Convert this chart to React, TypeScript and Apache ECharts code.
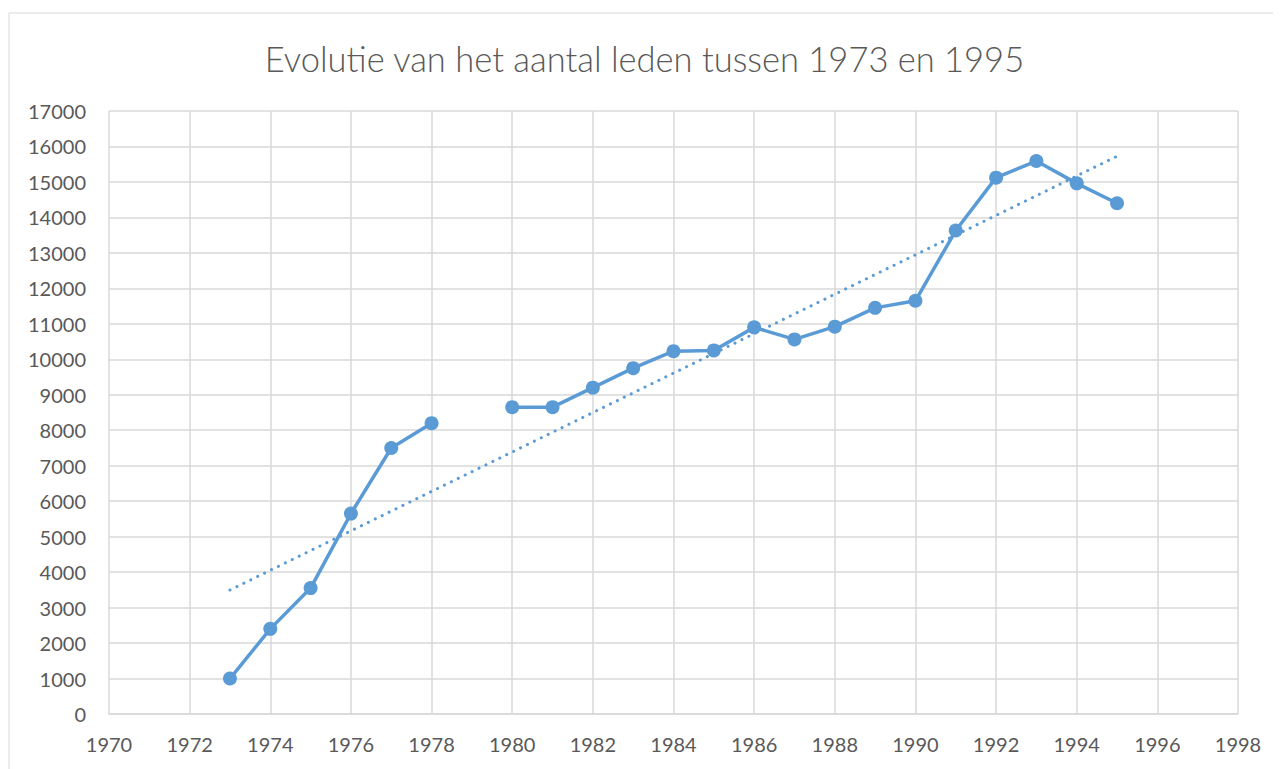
import React, { useEffect, useRef } from "react";
import * as echarts from "echarts";

const years = [1973, 1974, 1975, 1976, 1977, 1978, 1979, 1980, 1981, 1982, 1983, 1984, 1985, 1986, 1987, 1988, 1989, 1990, 1991, 1992, 1993, 1994, 1995];
const members: (number | null)[] = [1000, 2400, 3550, 5650, 7500, 8200, null, 8650, 8650, 9200, 9750, 10230, 10250, 10900, 10560, 10920, 11450, 11650, 13630, 15120, 15590, 14960, 14400];
const titleText = "Evolutie van het aantal leden tussen 1973 en 1995";

const FONT = "Lato";
const GREY = "#595959";
const BLUE = "#5b9bd5";

function trend(): [number, number][] {
  const pts = years.map((y, i) => [y, members[i]] as [number, number | null]).filter((p) => p[1] !== null) as [number, number][];
  const n = pts.length;
  const mx = pts.reduce((s, p) => s + p[0], 0) / n;
  const my = pts.reduce((s, p) => s + p[1], 0) / n;
  let sxy = 0, sxx = 0;
  pts.forEach((p) => { sxy += (p[0] - mx) * (p[1] - my); sxx += (p[0] - mx) ** 2; });
  const b = sxy / sxx;
  const a = my - b * mx;
  const x0 = years[0], x1 = years[years.length - 1];
  return [[x0, a + b * x0], [x1, a + b * x1]];
}

export default function App() {
  const ref = useRef<HTMLDivElement>(null);
  useEffect(() => {
    const chart = echarts.init(ref.current!, null, { renderer: "svg" });
    chart.setOption({
      animation: false,
      textStyle: { fontFamily: FONT },
      title: {
        text: titleText,
        left: "center",
        top: 28,
        textStyle: { fontFamily: FONT, fontSize: 34.5, fontWeight: 300, color: GREY },
      },
      graphic: [
        { type: "rect", shape: { x: 1, y: 5, width: 3000, height: 3000 }, style: { fill: "none", stroke: "#d9d9d9", lineWidth: 1 }, silent: true },
      ],
      grid: { left: 101, top: 103, right: 43, bottom: 55 },
      xAxis: {
        type: "value",
        min: 1970,
        max: 1998,
        interval: 2,
        axisLine: { show: true, lineStyle: { color: "#d9d9d9", width: 1.5 } },
        axisTick: { show: false },
        splitLine: { show: true, lineStyle: { color: "#d9d9d9", width: 1.5 } },
        axisLabel: { color: GREY, fontSize: 20, fontFamily: FONT, margin: 20, formatter: (v: number) => String(v) },
      },
      yAxis: {
        type: "value",
        min: 0,
        max: 17000,
        interval: 1000,
        axisLine: { show: false },
        axisTick: { show: false },
        splitLine: { show: true, lineStyle: { color: "#d9d9d9", width: 1.5 } },
        axisLabel: { color: GREY, fontSize: 20, fontFamily: FONT, margin: 23, formatter: (v: number) => String(v) },
      },
      series: [
        {
          type: "line",
          data: years.map((y, i) => [y, members[i] === null ? "-" : members[i]]),
          connectNulls: false,
          symbol: "circle",
          symbolSize: 14,
          itemStyle: { color: BLUE },
          lineStyle: { color: BLUE, width: 3.5 },
          z: 3,
        },
        {
          type: "line",
          data: trend(),
          symbol: "none",
          lineStyle: { color: BLUE, width: 3, type: [0.1, 7.6], cap: "round" },
          z: 2,
        },
      ],
    });
    return () => chart.dispose();
  }, []);
  return <div ref={ref} style={{ width: 1273, height: 761 }} />;
}
